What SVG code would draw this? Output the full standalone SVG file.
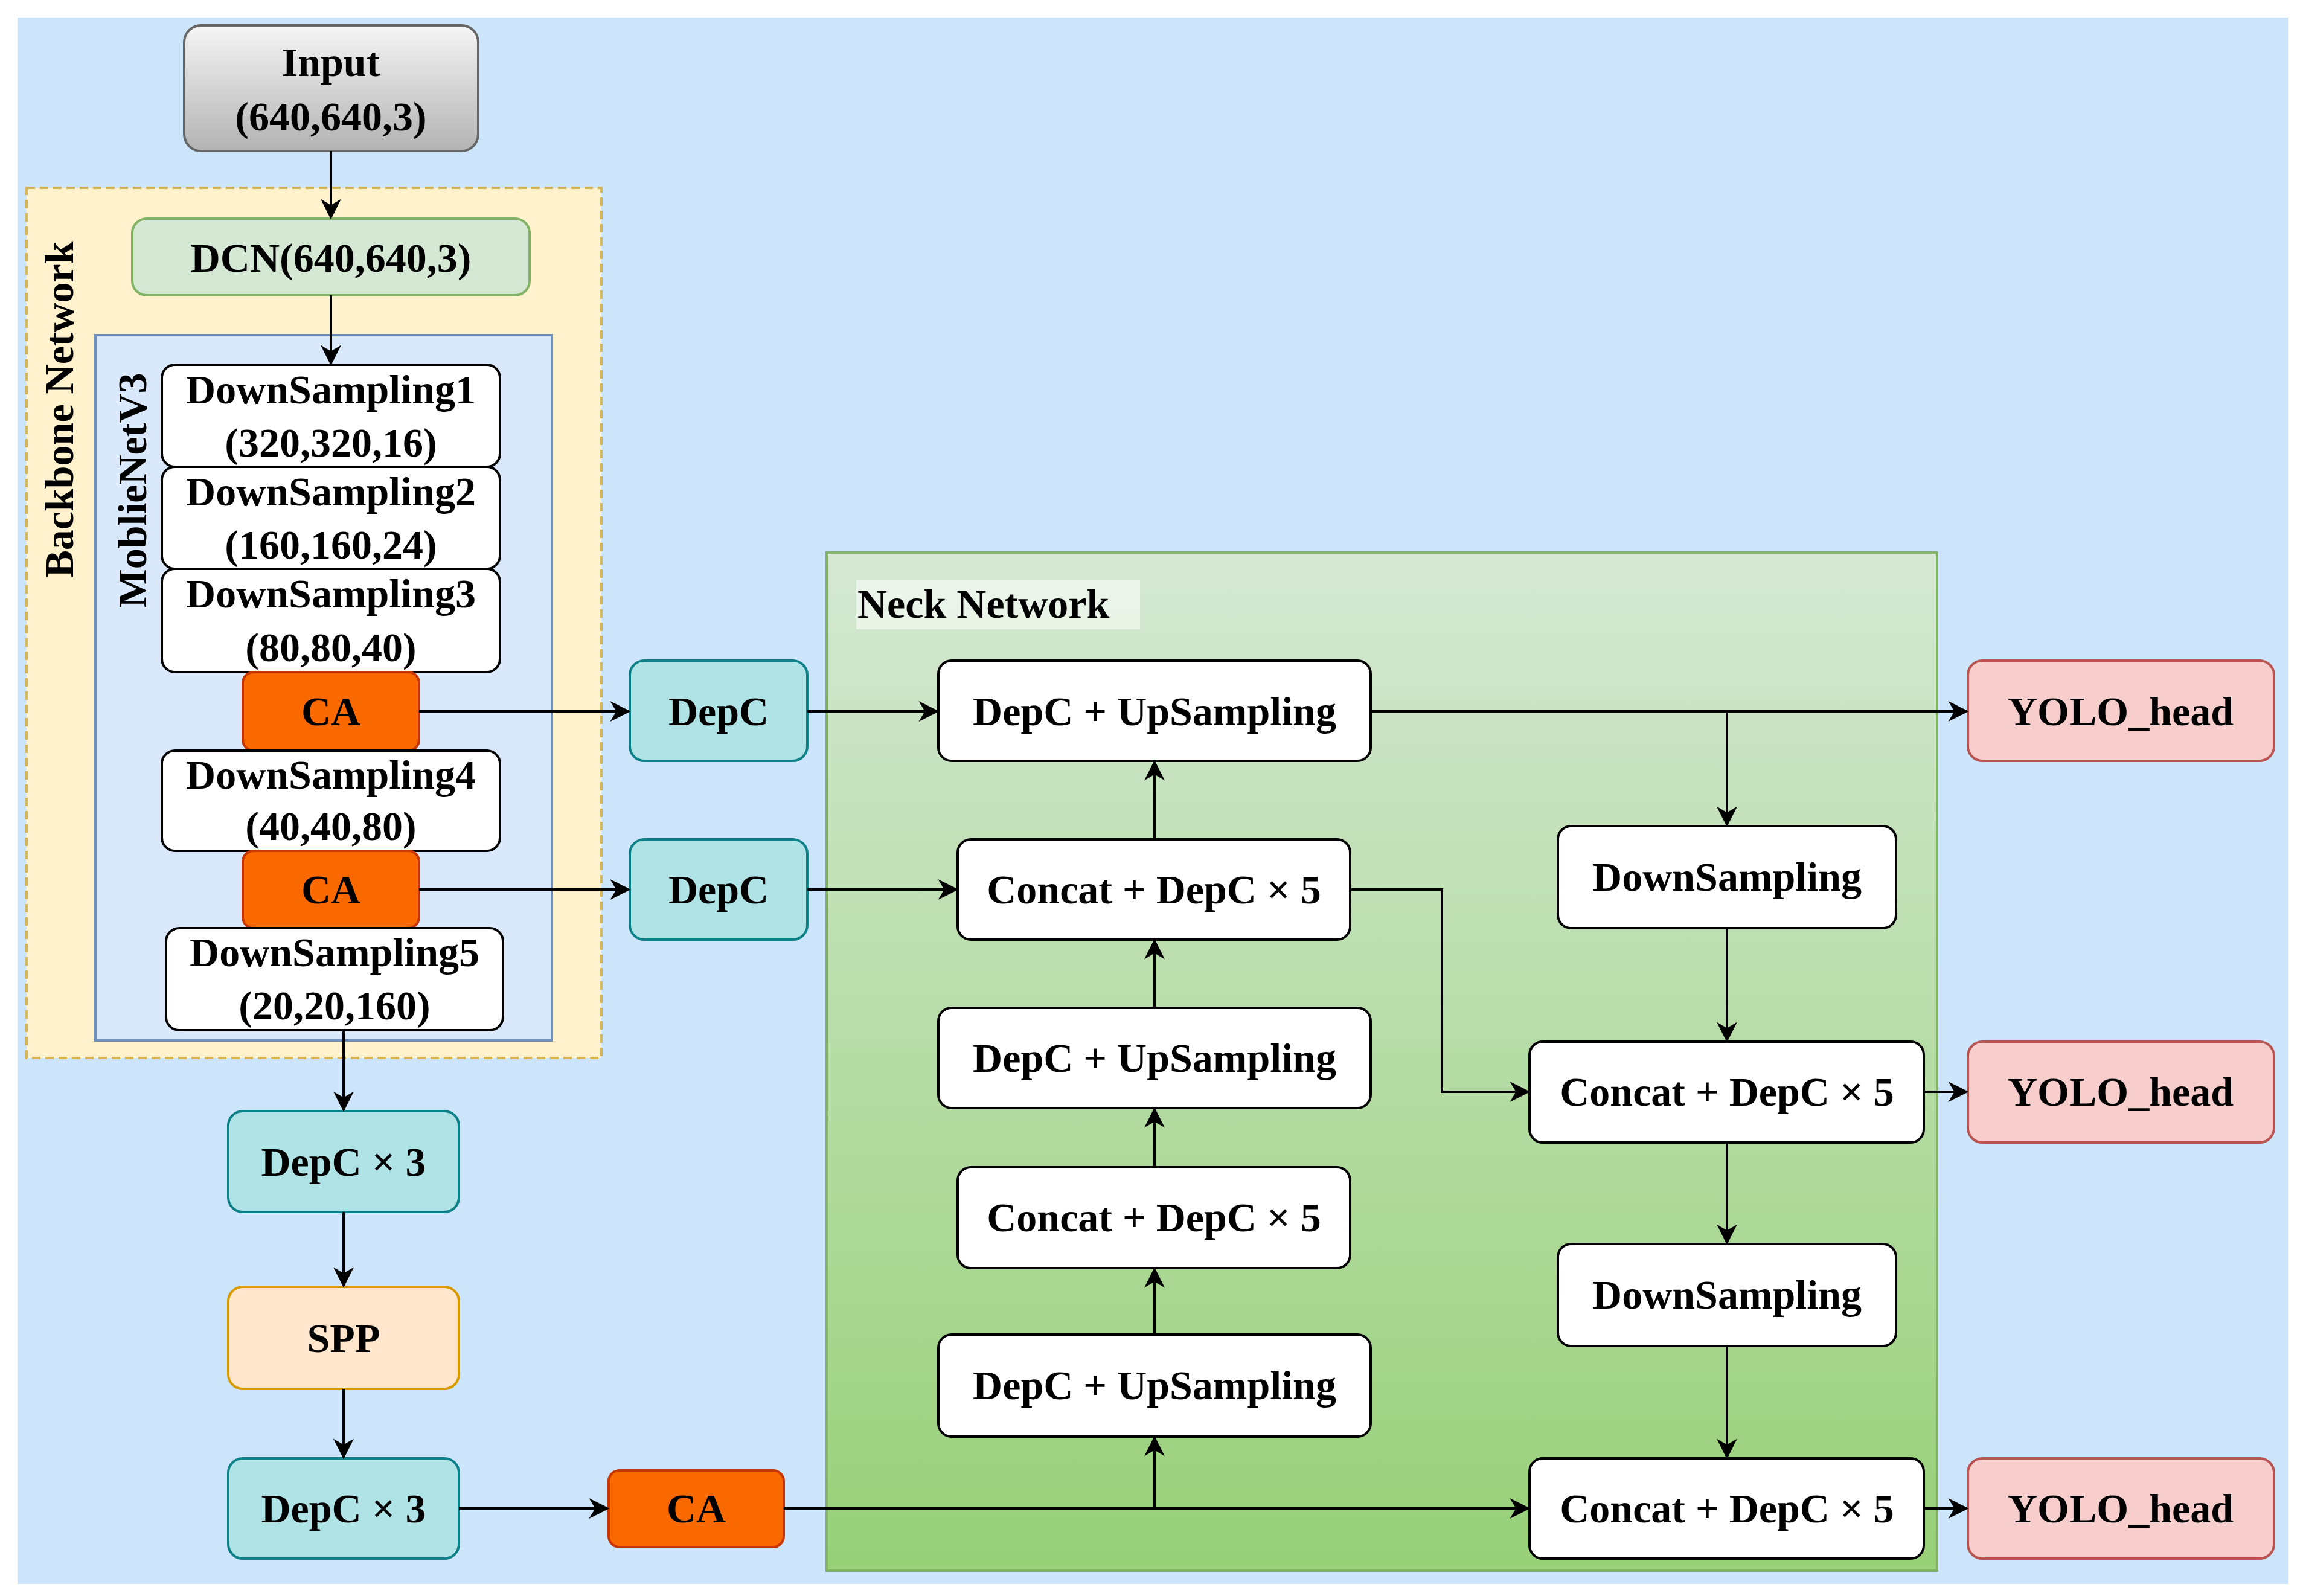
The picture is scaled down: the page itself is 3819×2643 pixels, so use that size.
<svg xmlns="http://www.w3.org/2000/svg" width="3819" height="2643" viewBox="0 0 3819 2643">
<defs>
<linearGradient id="gIn" x1="0" y1="0" x2="0" y2="1"><stop offset="0" stop-color="#f5f5f5"/><stop offset="1" stop-color="#b3b3b3"/></linearGradient>
<linearGradient id="gNeck" x1="0" y1="0" x2="0" y2="1"><stop offset="0" stop-color="#d5e8d4"/><stop offset="1" stop-color="#97d077"/></linearGradient>
<marker id="ar" markerWidth="10" markerHeight="10" refX="9" refY="5" orient="auto" markerUnits="userSpaceOnUse" viewBox="0 0 10 10"><path d="M0,0 L10,5 L0,10 L3,5 Z" fill="#000"/></marker>
<marker id="a" viewBox="0 0 10 10" refX="9" refY="5" markerWidth="34" markerHeight="34" markerUnits="userSpaceOnUse" orient="auto"><path d="M0,0 L10,5 L0,10 L3,5 Z" fill="#000"/></marker>
</defs>
<style>
text{font-family:"Liberation Serif","Times New Roman",serif;font-weight:bold;font-size:68px;text-anchor:middle;dominant-baseline:central;fill:#000}
.w{fill:#fff;stroke:#000;stroke-width:4}
.ca{fill:#fa6800;stroke:#c73500;stroke-width:4}
.dc{fill:#b0e3e6;stroke:#0e8088;stroke-width:4}
.yo{fill:#f8cecc;stroke:#b85450;stroke-width:4}
.c path{fill:none;stroke:#000;stroke-width:4;marker-end:url(#a)}
</style>
<rect x="0" y="0" width="3819" height="2643" fill="#fff"/>
<rect x="29" y="29" width="3761" height="2594" fill="#cce5fb"/>
<g id="backbone"><rect x="44" y="311" width="952" height="1441" fill="#fff2cc" stroke="#d6b656" stroke-width="4" stroke-dasharray="14,8"/>
<text transform="translate(98,678) rotate(-90)">Backbone Network</text></g>
<g id="mobilenet"><rect x="158" y="555" width="756" height="1168" fill="#dae8fc" stroke="#6c8ebf" stroke-width="4"/>
<text transform="translate(219,812) rotate(-90)">MoblieNetV3</text></g>
<g id="neck"><rect x="1369" y="915" width="1839" height="1686" fill="url(#gNeck)" stroke="#82b366" stroke-width="4"/>
<rect x="1418" y="960" width="470" height="82" fill="#f4f9f2" opacity="0.7"/>
<text x="1420" y="1000" style="text-anchor:start">Neck Network</text></g>
<g id="input"><rect x="305" y="42" width="487" height="208" rx="28" fill="url(#gIn)" stroke="#666" stroke-width="4"/><text x="548" y="103">Input</text><text x="548" y="193">(640,640,3)</text></g>
<g id="dcn"><rect x="219" y="362" width="658" height="127" rx="24" fill="#d5e8d4" stroke="#82b366" stroke-width="4"/><text x="548" y="427">DCN(640,640,3)</text></g>
<g id="ds1"><rect class="w" x="268" y="604" width="560" height="169" rx="22"/><text x="548" y="645">DownSampling1</text><text x="548" y="733">(320,320,16)</text></g>
<g id="ds2"><rect class="w" x="268" y="773" width="560" height="169" rx="22"/><text x="548" y="814">DownSampling2</text><text x="548" y="902">(160,160,24)</text></g>
<g id="ds3"><rect class="w" x="268" y="942" width="560" height="171" rx="22"/><text x="548" y="983">DownSampling3</text><text x="548" y="1072">(80,80,40)</text></g>
<g id="ca1"><rect class="ca" x="402" y="1113" width="292" height="130" rx="18"/><text x="548" y="1178">CA</text></g>
<g id="ds4"><rect class="w" x="268" y="1243" width="560" height="166" rx="22"/><text x="548" y="1283">DownSampling4</text><text x="548" y="1368">(40,40,80)</text></g>
<g id="ca2"><rect class="ca" x="402" y="1409" width="292" height="128" rx="18"/><text x="548" y="1473">CA</text></g>
<g id="ds5"><rect class="w" x="275" y="1537" width="558" height="169" rx="22"/><text x="554" y="1577">DownSampling5</text><text x="554" y="1665">(20,20,160)</text></g>
<g id="depc3a"><rect class="dc" x="378" y="1840" width="382" height="167" rx="24"/><text x="569" y="1924">DepC × 3</text></g>
<g id="spp"><rect x="378" y="2131" width="382" height="169" rx="24" fill="#ffe6cc" stroke="#d79b00" stroke-width="4"/><text x="569" y="2216">SPP</text></g>
<g id="depc3b"><rect class="dc" x="378" y="2415" width="382" height="166" rx="24"/><text x="569" y="2498">DepC × 3</text></g>
<g id="ca3"><rect class="ca" x="1008" y="2435" width="290" height="127" rx="18"/><text x="1153" y="2498">CA</text></g>
<g id="depc1"><rect class="dc" x="1043" y="1094" width="294" height="166" rx="24"/><text x="1190" y="1178">DepC</text></g>
<g id="depc2"><rect class="dc" x="1043" y="1390" width="294" height="166" rx="24"/><text x="1190" y="1473">DepC</text></g>
<g id="up1"><rect class="w" x="1554" y="1094" width="716" height="166" rx="22"/><text x="1912" y="1178">DepC + UpSampling</text></g>
<g id="cat1"><rect class="w" x="1586" y="1390" width="650" height="166" rx="22"/><text x="1911" y="1473">Concat + DepC × 5</text></g>
<g id="up2"><rect class="w" x="1554" y="1669" width="716" height="166" rx="22"/><text x="1912" y="1752">DepC + UpSampling</text></g>
<g id="cat2"><rect class="w" x="1586" y="1933" width="650" height="167" rx="22"/><text x="1911" y="2016">Concat + DepC × 5</text></g>
<g id="up3"><rect class="w" x="1554" y="2210" width="716" height="169" rx="22"/><text x="1912" y="2294">DepC + UpSampling</text></g>
<g id="dsa"><rect class="w" x="2580" y="1368" width="560" height="169" rx="22"/><text x="2860" y="1452">DownSampling</text></g>
<g id="cat3"><rect class="w" x="2533" y="1725" width="653" height="167" rx="22"/><text x="2860" y="1808">Concat + DepC × 5</text></g>
<g id="dsb"><rect class="w" x="2580" y="2060" width="560" height="169" rx="22"/><text x="2860" y="2144">DownSampling</text></g>
<g id="cat4"><rect class="w" x="2533" y="2415" width="653" height="166" rx="22"/><text x="2860" y="2498">Concat + DepC × 5</text></g>
<g id="yolo1"><rect class="yo" x="3259" y="1094" width="507" height="166" rx="24"/><text x="3512" y="1178">YOLO_head</text></g>
<g id="yolo2"><rect class="yo" x="3259" y="1725" width="507" height="167" rx="24"/><text x="3512" y="1808">YOLO_head</text></g>
<g id="yolo3"><rect class="yo" x="3259" y="2415" width="507" height="166" rx="24"/><text x="3512" y="2498">YOLO_head</text></g>
<g id="connectors" class="c">
<path d="M548,250 V360"/>
<path d="M548,489 V602"/>
<path d="M694,1178 H1041"/>
<path d="M1337,1178 H1552"/>
<path d="M2270,1178 H3257"/>
<path d="M2860,1178 V1366"/>
<path d="M694,1473 H1041"/>
<path d="M1337,1473 H1584"/>
<path d="M2236,1473 H2388 V1808 H2531"/>
<path d="M2860,1537 V1723"/>
<path d="M3186,1808 H3257"/>
<path d="M2860,1892 V2058"/>
<path d="M2860,2229 V2413"/>
<path d="M3186,2498 H3257"/>
<path d="M569,1706 V1838"/>
<path d="M569,2007 V2129"/>
<path d="M569,2300 V2413"/>
<path d="M760,2498 H1006"/>
<path d="M1298,2498 H2531"/>
<path d="M1912,2498 V2381"/>
<path d="M1912,2210 V2102"/>
<path d="M1912,1933 V1837"/>
<path d="M1912,1669 V1558"/>
<path d="M1912,1390 V1262"/>
</g>
</svg>
